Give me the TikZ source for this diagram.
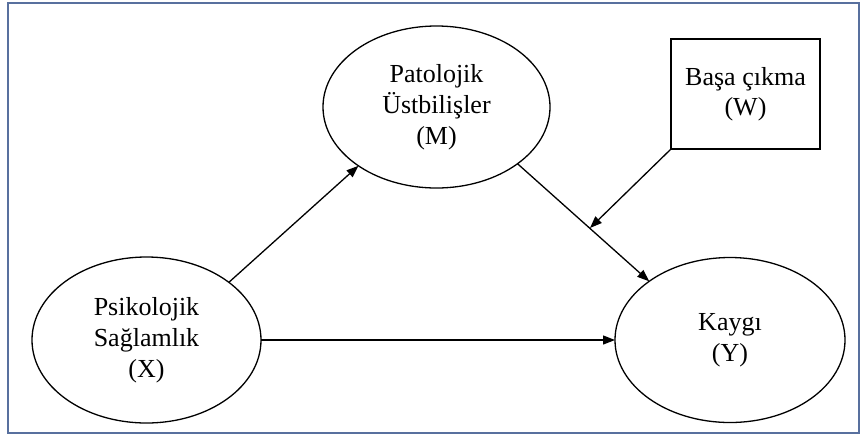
\documentclass[tikz,border=0pt]{standalone}
\usepackage{fontspec}
\setmainfont{Liberation Serif}
\usetikzlibrary{shapes.geometric,arrows.meta}
\definecolor{framecol}{RGB}{88,112,158}
\tikzset{
  latent/.style={ellipse,draw=black,line width=1.3pt,inner sep=0pt,outer sep=0pt,align=center,
    font=\fontsize{26}{31}\selectfont},
  boxnode/.style={rectangle,draw=black,line width=1.3pt,inner sep=0pt,outer sep=0pt,align=center,
    font=\fontsize{26}{30}\selectfont},
  conn/.style={line width=1.3pt,-{Triangle[length=12pt,width=9pt]}}
}
\begin{document}
\begin{tikzpicture}[x=1pt,y=-1pt]
\useasboundingbox (0,0) rectangle (861,437);
\draw[framecol,line width=1.6pt] (8,3) rectangle (859,433);
\node[latent,minimum width=229pt,minimum height=166pt] (X) at (146.5,340) {Psikolojik\\Sağlamlık\\(X)};
\node[latent,minimum width=227pt,minimum height=162pt] (M) at (436.5,107) {Patolojik\\Üstbilişler\\(M)};
\node[latent,minimum width=230pt,minimum height=165pt] (Y) at (730,340) {Kaygı\\(Y)};
\node[boxnode,minimum width=149pt,minimum height=110pt] (W) at (745.5,94) {Başa çıkma\\(W)};
\coordinate (mod) at (590,228);
\draw[conn] (X.35) -- (M.217);
\draw[conn] (M.-35) -- (Y.144);
\draw[conn] (X.east) -- (Y.west);
\draw[conn] (W.south west) -- (mod);
\end{tikzpicture}
\end{document}
